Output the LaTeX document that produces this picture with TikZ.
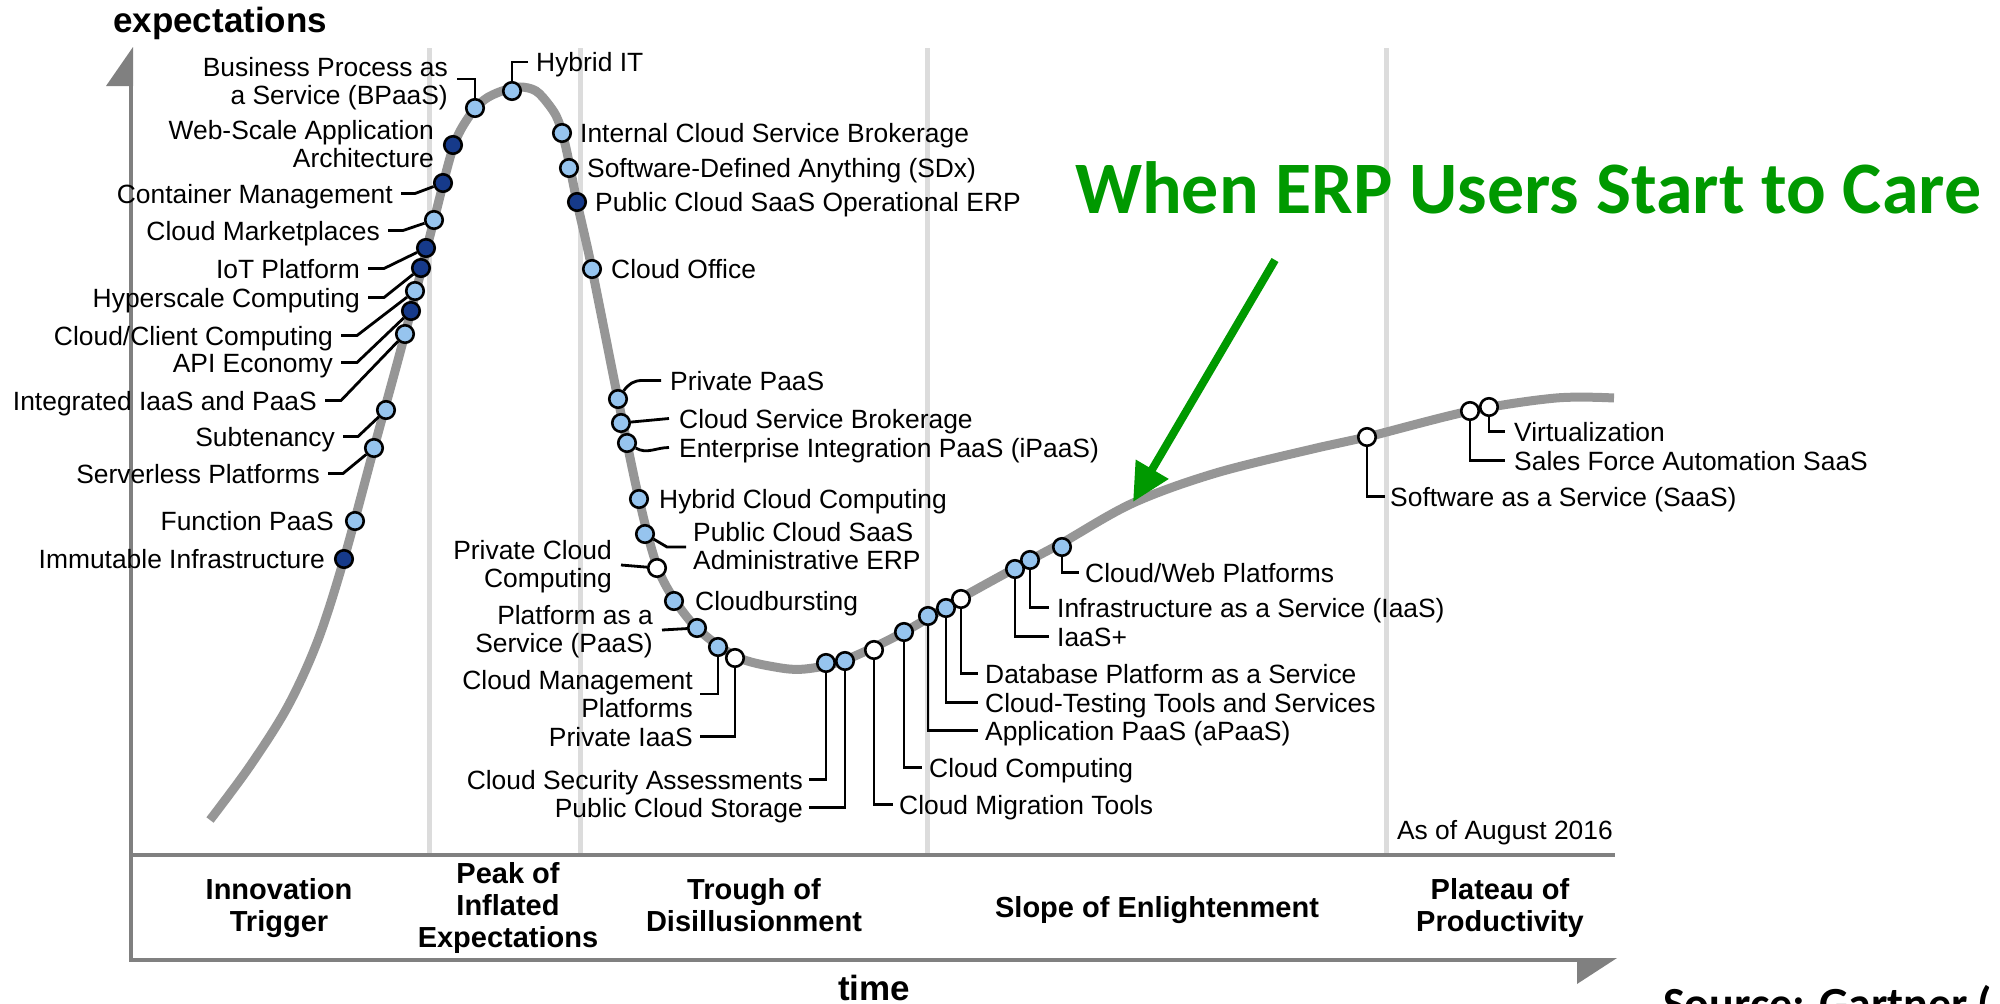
\documentclass[tikz,border=0pt]{standalone}
\usepackage{fontspec}
\setmainfont{Liberation Sans}
\newfontfamily\calibrifont{Carlito}
\usetikzlibrary{arrows.meta}
\pgfdeclarelayer{background}
\pgfsetlayers{background,main}
\definecolor{lightdot}{RGB}{150,196,238}
\definecolor{darkdot}{RGB}{22,58,138}
\definecolor{curvegray}{RGB}{150,150,150}
\definecolor{axisgray}{RGB}{128,128,128}
\definecolor{divgray}{RGB}{220,220,220}
\definecolor{erpgreen}{RGB}{0,153,0}
\newcommand{\twoliner}[2]{\begin{tabular}[b]{@{}r@{}}#1\\#2\end{tabular}}
\newcommand{\twolinel}[2]{\begin{tabular}[b]{@{}l@{}}#1\\#2\end{tabular}}
\newcommand{\twolinec}[2]{\begin{tabular}[b]{@{}c@{}}#1\\#2\end{tabular}}
\newcommand{\threelinec}[3]{\begin{tabular}[b]{@{}c@{}}#1\\#2\\#3\end{tabular}}
\begin{document}
\begin{tikzpicture}[x=1pt,y=-1pt,
  lbl/.style={inner sep=0pt, font=\fontsize{26.4}{27.5}\selectfont, text height=19pt, text depth=0pt},
  mlbl/.style={inner sep=0pt, font=\fontsize{26.4}{27.5}\selectfont},
  phase/.style={inner sep=0pt, anchor=base, font=\fontsize{29}{32}\selectfont\bfseries},
  axtitle/.style={inner sep=0pt, font=\fontsize{35}{38}\selectfont\bfseries},
  dotL/.style={circle, draw=black, line width=2.6pt, minimum size=17.5pt, inner sep=0pt, fill=lightdot},
  dotD/.style={dotL, fill=darkdot},
  dotW/.style={dotL, fill=white},
  leader/.style={draw=black, line width=2.8pt, line join=miter},
  axis/.style={draw=axisgray, line width=4pt, line join=miter},
  divider/.style={draw=divgray, line width=5pt},
  curve/.style={draw=curvegray, line width=9pt},
]
\useasboundingbox (0,0) rectangle (2000,1004);

% ---------- background: dividers, axes, curve ----------
\begin{pgfonlayer}{background}
\draw[divider] (429,48) -- (429,853);
\draw[divider] (580,48) -- (580,853);
\draw[divider] (927,48) -- (927,853);
\draw[divider] (1386,48) -- (1386,853);
\draw[axis] (131,86) -- (131,960) -- (1580,960);
\draw[axis] (131,855) -- (1615,855);
\fill[axisgray] (133,47) -- (133,86) -- (106,86) -- cycle;
\fill[axisgray] (1577,958) -- (1617,958) -- (1577,984) -- cycle;
\draw[curve] plot[smooth, tension=0.55] coordinates {
 (210,820) (250,766) (288,706) (318,640) (344,559) (374,448) (405,334)
 (434,220) (453,148) (468,118) (484,100) (502,91) (520,87) (536,91)
 (549,105) (558,120) (566,148) (577,202) (592,269) (618,399) (639,499)
 (657,566) (676,602) (700,631) (737,657) (775,667) (805,669) (845,660)
 (904,632) (961,598) (1030,560) (1062,543) (1133,503) (1216,473)
 (1321,447) (1367,437) (1470,411) (1556,398) (1614,398)};
\end{pgfonlayer}

% ---------- axis titles and phases ----------
\node[axtitle, anchor=base west] (t_expect) at (113,32) {expectations};
\node[axtitle, anchor=base] (t_time) at (874,1000) {time};
\node[phase] (p_innov) at (279,931) {\twolinec{Innovation}{Trigger}};
\node[phase] (p_peak) at (508,947) {\threelinec{Peak of}{Inflated}{Expectations}};
\node[phase] (p_trough) at (754,931) {\twolinec{Trough of}{Disillusionment}};
\node[phase] (p_slope) at (1157,917) {Slope of Enlightenment};
\node[phase] (p_plateau) at (1500,931) {\twolinec{Plateau of}{Productivity}};
\node[lbl, anchor=base east] (l_asof) at (1613,839) {As of August 2016};

% ---------- dots ----------
\node[dotL] (d_bpaas) at (475,108) {};
\node[dotL] (d_hybridit) at (512,91) {};
\node[dotD] (d_webscale) at (453,145) {};
\node[dotD] (d_container) at (443,183) {};
\node[dotL] (d_market) at (434,220) {};
\node[dotD] (d_iot) at (426,248) {};
\node[dotD] (d_hyper) at (421,268) {};
\node[dotL] (d_cloudclient) at (415,291) {};
\node[dotD] (d_api) at (411,311) {};
\node[dotL] (d_integrated) at (405,334) {};
\node[dotL] (d_subten) at (386,410) {};
\node[dotL] (d_serverless) at (374,448) {};
\node[dotL] (d_fpaas) at (355,521) {};
\node[dotD] (d_immut) at (344,559) {};
\node[dotL] (d_icsb) at (562,133) {};
\node[dotL] (d_sdx) at (569,168) {};
\node[dotD] (d_pcsoerp) at (577,202) {};
\node[dotL] (d_office) at (592,269) {};
\node[dotL] (d_privpaas) at (618,399) {};
\node[dotL] (d_csb) at (621,423) {};
\node[dotL] (d_ipaas) at (627,443) {};
\node[dotL] (d_hybridcc) at (639,499) {};
\node[dotL] (d_pcsaerp) at (645,534) {};
\node[dotW] (d_privcloud) at (657,568) {};
\node[dotL] (d_cloudburst) at (674,601) {};
\node[dotL] (d_paas) at (697,628) {};
\node[dotL] (d_cmp) at (718,647) {};
\node[dotW] (d_priviaas) at (735,658) {};
\node[dotL] (d_csa) at (826,663) {};
\node[dotL] (d_pcs) at (845,661) {};
\node[dotW] (d_cmt) at (874,650) {};
\node[dotL] (d_cc) at (904,632) {};
\node[dotL] (d_apaas) at (928,616) {};
\node[dotL] (d_ctt) at (946,608) {};
\node[dotW] (d_dbpaas) at (961,599) {};
\node[dotL] (d_iaasplus) at (1015,569) {};
\node[dotL] (d_iaas) at (1030,560) {};
\node[dotL] (d_cwp) at (1062,547) {};
\node[dotW] (d_saas) at (1367,437) {};
\node[dotW] (d_sfa) at (1470,411) {};
\node[dotW] (d_virt) at (1489,407) {};

% ---------- left labels ----------
\node[mlbl, anchor=base east] (l_bpaas) at (448,104) {\twoliner{Business Process as}{a Service (BPaaS)}};
\node[mlbl, anchor=base east] (l_webscale) at (434,167) {\twoliner{Web-Scale Application}{Architecture}};
\node[lbl, anchor=base east] (l_container) at (393,203) {Container Management};
\node[lbl, anchor=base east] (l_market) at (380,240) {Cloud Marketplaces};
\node[lbl, anchor=base east] (l_iot) at (360,278) {IoT Platform};
\node[lbl, anchor=base east] (l_hyper) at (360,307) {Hyperscale Computing};
\node[lbl, anchor=base east] (l_cloudclient) at (333,345) {Cloud/Client Computing};
\node[lbl, anchor=base east] (l_api) at (333,372) {API Economy};
\node[lbl, anchor=base east] (l_integrated) at (317,410) {Integrated IaaS and PaaS};
\node[lbl, anchor=base east] (l_subten) at (335,446) {Subtenancy};
\node[lbl, anchor=base east] (l_serverless) at (320,483) {Serverless Platforms};
\node[lbl, anchor=base east] (l_fpaas) at (334,530) {Function PaaS};
\node[lbl, anchor=base east] (l_immut) at (325,568) {Immutable Infrastructure};
\node[mlbl, anchor=base east] (l_privcloud) at (612,587) {\twoliner{Private Cloud}{Computing}};
\node[mlbl, anchor=base east] (l_paas) at (653,652) {\twoliner{Platform as a}{Service (PaaS)}};
\node[mlbl, anchor=base east] (l_cmp) at (693,717) {\twoliner{Cloud Management}{Platforms}};
\node[lbl, anchor=base east] (l_priviaas) at (693,746) {Private IaaS};
\node[lbl, anchor=base east] (l_csa) at (803,789) {Cloud Security Assessments};
\node[lbl, anchor=base east] (l_pcs) at (803,817) {Public Cloud Storage};

% ---------- right labels ----------
\node[lbl, anchor=base west] (l_hybridit) at (536,71) {Hybrid IT};
\node[lbl, anchor=base west] (l_icsb) at (580,142) {Internal Cloud Service Brokerage};
\node[lbl, anchor=base west] (l_sdx) at (587,177) {Software-Defined Anything (SDx)};
\node[lbl, anchor=base west] (l_pcsoerp) at (595,211) {Public Cloud SaaS Operational ERP};
\node[lbl, anchor=base west] (l_office) at (611,278) {Cloud Office};
\node[lbl, anchor=base west] (l_privpaas) at (670,390) {Private PaaS};
\node[lbl, anchor=base west] (l_csb) at (679,428) {Cloud Service Brokerage};
\node[lbl, anchor=base west] (l_ipaas) at (679,457) {Enterprise Integration PaaS (iPaaS)};
\node[lbl, anchor=base west] (l_hybridcc) at (659,508) {Hybrid Cloud Computing};
\node[mlbl, anchor=base west] (l_pcsaerp) at (693,569) {\twolinel{Public Cloud SaaS}{Administrative ERP}};
\node[lbl, anchor=base west] (l_cloudburst) at (695,610) {Cloudbursting};
\node[lbl, anchor=base west] (l_cmt) at (899,814) {Cloud Migration Tools};
\node[lbl, anchor=base west] (l_cc) at (929,777) {Cloud Computing};
\node[lbl, anchor=base west] (l_apaas) at (985,740) {Application PaaS (aPaaS)};
\node[lbl, anchor=base west] (l_ctt) at (985,712) {Cloud-Testing Tools and Services};
\node[lbl, anchor=base west] (l_dbpaas) at (985,683) {Database Platform as a Service};
\node[lbl, anchor=base west] (l_iaasplus) at (1057,646) {IaaS+};
\node[lbl, anchor=base west] (l_iaas) at (1057,617) {Infrastructure as a Service (IaaS)};
\node[lbl, anchor=base west] (l_cwp) at (1085,582) {Cloud/Web Platforms};
\node[lbl, anchor=base west] (l_saas) at (1390,506) {Software as a Service (SaaS)};
\node[lbl, anchor=base west] (l_virt) at (1514,441) {Virtualization};
\node[lbl, anchor=base west] (l_sfa) at (1514,470) {Sales Force Automation SaaS};

% ---------- leader coordinates ----------
\coordinate (c_bpaas) at (457,79);
\coordinate (c_hybridit) at (528,62);
\coordinate (c_pcsaerp1) at (667,547);
\coordinate (c_pcsaerp2) at (686,547);
\coordinate (c_privcloud) at (621,565);
\coordinate (c_paas) at (662,630);
\coordinate (c_cmp) at (700,694);

% ---------- leaders ----------
\begin{pgfonlayer}{background}
\draw[leader] (c_bpaas) -| (d_bpaas);
\draw[leader] (c_hybridit) -| (d_hybridit);
\draw[leader] ([xshift=8pt]l_container.east) -- ++(14pt,0) -- (d_container);
\draw[leader] ([xshift=8pt]l_market.east) -- ++(15pt,0) -- (d_market);
\draw[leader] ([xshift=8pt]l_iot.east) -- ++(16pt,0) -- (d_iot);
\draw[leader] ([xshift=8pt]l_hyper.east) -- ++(16pt,0) -- (d_hyper);
\draw[leader] ([xshift=8pt]l_cloudclient.east) -- ++(16pt,0) -- (d_cloudclient);
\draw[leader] ([xshift=8pt]l_api.east) -- ++(16pt,0) -- (d_api);
\draw[leader] ([xshift=8pt]l_integrated.east) -- ++(16pt,0) -- (d_integrated);
\draw[leader] ([xshift=8pt]l_subten.east) -- ++(15pt,0) -- (d_subten);
\draw[leader] ([xshift=8pt]l_serverless.east) -- ++(15pt,0) -- (d_serverless);
\draw[leader] (d_privpaas) to[out=55,in=180] ([xshift=-28pt]l_privpaas.west) -- ([xshift=-9pt]l_privpaas.west);
\draw[leader] (d_csb) -- ([xshift=-10pt]l_csb.west);
\draw[leader] (d_ipaas) to[out=-30,in=180] ([xshift=-10pt]l_ipaas.west);
\draw[leader] (d_pcsaerp) -- (c_pcsaerp1) -- (c_pcsaerp2);
\draw[leader] (d_privcloud) -- (c_privcloud);
\draw[leader] (d_paas) -- (c_paas);
\draw[leader] (d_cmp) |- (c_cmp);
\draw[leader] (d_priviaas) |- ([xshift=7pt]l_priviaas.east);
\draw[leader] (d_csa) |- ([xshift=6pt]l_csa.east);
\draw[leader] (d_pcs) |- ([xshift=6pt]l_pcs.east);
\draw[leader] (d_cmt) |- ([xshift=-6pt]l_cmt.west);
\draw[leader] (d_cc) |- ([xshift=-7pt]l_cc.west);
\draw[leader] (d_apaas) |- ([xshift=-7pt]l_apaas.west);
\draw[leader] (d_ctt) |- ([xshift=-7pt]l_ctt.west);
\draw[leader] (d_dbpaas) |- ([xshift=-7pt]l_dbpaas.west);
\draw[leader] (d_iaasplus) |- ([xshift=-8pt]l_iaasplus.west);
\draw[leader] (d_iaas) |- ([xshift=-8pt]l_iaas.west);
\draw[leader] (d_cwp) |- ([xshift=-6pt]l_cwp.west);
\draw[leader] (d_saas) |- ([xshift=-5pt]l_saas.west);
\draw[leader] (d_sfa) |- ([xshift=-9pt]l_sfa.west);
\draw[leader] (d_virt) |- ([xshift=-9pt]l_virt.west);
\end{pgfonlayer}

% ---------- green annotation ----------
\node[anchor=base west, inner sep=0pt, text=erpgreen,
      font=\calibrifont\bfseries\fontsize{74}{80}\selectfont] (t_erp) at (1075,213) {When ERP Users Start to Care};
\coordinate (g_from) at (1275,260);
\coordinate (g_to) at (1133,502);
\draw[erpgreen, line width=8pt, -{Triangle[length=38pt,width=36pt]}] (g_from) -- (g_to);

\node[anchor=base west, inner sep=0pt,
      font=\calibrifont\bfseries\fontsize{46}{50}\selectfont] (t_source) at (1663,1019) {Source: Gartner (};
\end{tikzpicture}
\end{document}
